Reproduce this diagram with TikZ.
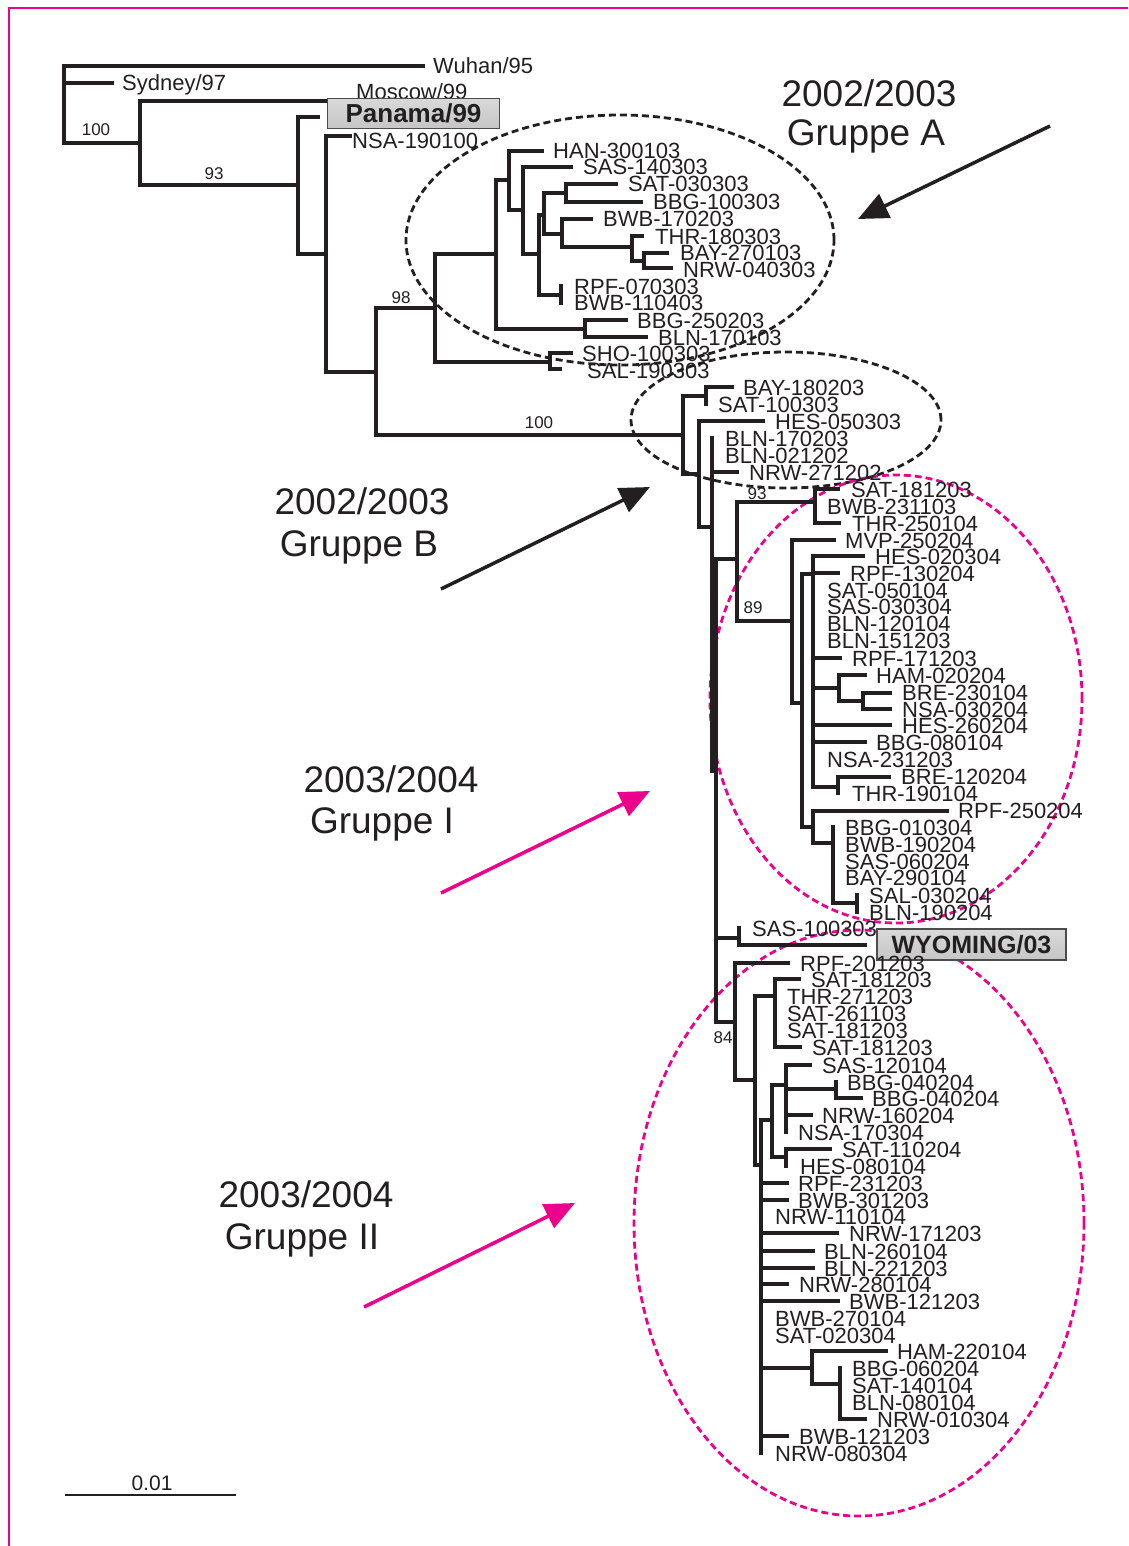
\documentclass[tikz,border=0pt]{standalone}
\usepackage{fontspec}
\setmainfont{Liberation Sans}
\usetikzlibrary{arrows.meta}
\definecolor{ink}{HTML}{231F20}
\definecolor{pinkc}{HTML}{EC008C}
\newcounter{lfc}
\newcommand\lf[3]{\stepcounter{lfc}\node[lab] (lf\arabic{lfc}) at (#1,#2+8) {#3};}
\newcommand\Hbr[3]{\draw[tree] (#1,#3) -- (#2,#3);}
\newcommand\Vbr[3]{\draw[tree] (#1,#2) -- (#1,#3);}
\begin{document}
\begin{tikzpicture}[x=1pt,y=-1pt,
  tree/.style={line width=3.6pt, draw=ink, line cap=rect},
  lab/.style={anchor=base west, inner sep=0pt, font=\fontsize{22}{22}\selectfont, text=ink},
  boot/.style={anchor=base, inner sep=0pt, font=\fontsize{17}{17}\selectfont, text=ink},
  grp/.style={anchor=base, inner sep=0pt, font=\fontsize{37}{40}\selectfont, text=ink},
  blkell/.style={draw=ink, line width=2.8pt, dash pattern=on 7pt off 4pt},
  pnkell/.style={draw=pinkc, line width=2.8pt, dash pattern=on 7pt off 4pt},
  blkarrow/.style={draw=ink, line width=3.5pt, -{Triangle[length=30pt,width=26pt]}},
  pnkarrow/.style={draw=pinkc, line width=3.5pt, -{Triangle[length=30pt,width=26pt]}},
  refbox/.style={draw=gray!60!black, line width=1.2pt, top color=gray!30, middle color=gray!6, bottom color=gray!45, inner sep=0pt, text=ink, font=\bfseries\fontsize{26}{26}\selectfont}
]
\useasboundingbox (0,0) rectangle (1128,1546);
\fill[white] (0,0) rectangle (1128,1546);
% frame
\draw[pinkc, line width=2pt] (8.5,1546) -- (8.5,8.5) -- (1128,8.5);

% ---------- ellipses ----------
\draw[blkell] (620,240) ellipse [x radius=214pt, y radius=125pt];
\draw[blkell] (786,420) ellipse [x radius=155pt, y radius=68pt];
\draw[pnkell] (896,699) ellipse [x radius=186pt, y radius=224pt];
\draw[pnkell] (859,1223) ellipse [x radius=225pt, y radius=293pt];

% ---------- root part ----------
\Vbr{64}{66}{143}
\Hbr{64}{423}{66}  \lf{433}{66}{Wuhan/95}
\Hbr{64}{112}{83}  \lf{122}{83}{Sydney/97}
\Hbr{64}{140}{143} \node[boot] (b100a) at (96,136) {100};
\Vbr{140}{101}{185}
\Hbr{140}{328}{101} \lf{356}{92}{Moscow/99}
\Hbr{140}{298}{185} \node[boot] (b93a) at (214,180) {93};
\Vbr{298}{117}{254}
\Hbr{298}{318}{117}
\node[refbox, minimum width=172pt, minimum height=30pt] (panama) at (413.5,113.5) {Panama/99};
\Hbr{298}{326}{254}
\Vbr{326}{136}{372}
\Hbr{326}{350}{136} \lf{352}{141}{NSA-190100}
\Hbr{326}{376}{372}
\Vbr{376}{308}{435}
\Hbr{376}{435}{308} \node[boot] (b98) at (401,303) {98};
\Hbr{376}{683}{435} \node[boot] (b100b) at (539,428) {100};

% ---------- group A ----------
\Vbr{435}{254}{362}
\Hbr{435}{496}{254}
\Hbr{435}{550}{362}
\Vbr{550}{353}{369}
\Hbr{550}{571}{353} \lf{582}{353}{SHO-100303}
\Hbr{550}{560}{369} \lf{587}{370}{SAL-190303}
\Vbr{496}{180}{329}
\Hbr{496}{509}{180}
\Hbr{496}{585}{329}
\Vbr{585}{320}{337}
\Hbr{585}{626}{320} \lf{637}{320}{BBG-250203}
\Hbr{585}{646}{337} \lf{658}{337}{BLN-170103}
\Vbr{509}{151}{210}
\Hbr{509}{542}{151} \lf{553}{151}{HAN-300103}
\Hbr{509}{523}{210}
\Vbr{523}{167}{254}
\Hbr{523}{571}{167} \lf{583}{167}{SAS-140303}
\Hbr{523}{539}{254}
\Vbr{539}{215}{295}
\Hbr{539}{544}{215}
\Hbr{539}{561}{295}
\Vbr{544}{193}{234}
\Hbr{544}{566}{193}
\Hbr{544}{562}{234}
\Vbr{566}{184}{202}
\Hbr{566}{616}{184} \lf{628}{184}{SAT-030303}
\Hbr{566}{641}{202} \lf{653}{202}{BBG-100303}
\Vbr{562}{219}{247}
\Hbr{562}{591}{219} \lf{603}{219}{BWB-170203}
\Hbr{562}{632}{247}
\Vbr{632}{236}{261}
\Hbr{632}{642}{236} \lf{655}{236}{THR-180303}
\Hbr{632}{644}{261}
\Vbr{644}{253}{268}
\Hbr{644}{667}{253} \lf{680}{253}{BAY-270103}
\Hbr{644}{671}{268} \lf{683}{269}{NRW-040303}
\Vbr{561}{286}{303}
\lf{574}{286}{RPF-070303}
\lf{574}{302}{BWB-110403}

% ---------- group B ----------
\Vbr{683}{396}{474}
\Hbr{683}{706}{396}
\Vbr{706}{387}{404}
\Hbr{706}{732}{387} \lf{743}{387}{BAY-180203}
\lf{718}{404}{SAT-100303}
\Hbr{683}{699}{474}
\Vbr{699}{421}{527}
\Hbr{699}{763}{421} \lf{775}{421}{HES-050303}
\Hbr{699}{712}{527}
\Vbr{712}{438}{771}
\lf{725}{438}{BLN-170203}
\lf{725}{455}{BLN-021202}
\Hbr{712}{737}{472} \lf{749}{472}{NRW-271202}
\Hbr{712}{716}{771}
\Vbr{716}{559}{1022}

% ---------- group I ----------
\Hbr{716}{737}{559}
\Vbr{737}{502}{621}
\Hbr{737}{815}{502} \node[boot] (b93b) at (757,499) {93};
\Vbr{815}{489}{523}
\Hbr{815}{838}{489} \lf{851}{489}{SAT-181203}
\lf{827}{506}{BWB-231103}
\Hbr{815}{839}{523} \lf{852}{523}{THR-250104}
\Hbr{737}{792}{621} \node[boot] (b89) at (753,613) {89};
\Vbr{792}{540}{703}
\Hbr{792}{834}{540} \lf{845}{540}{MVP-250204}
\Hbr{792}{802}{703}
\Vbr{802}{574}{827}
\Hbr{802}{813}{574}
\Vbr{813}{556}{787}
\Hbr{813}{863}{556} \lf{875}{556}{HES-020304}
\Hbr{813}{838}{573} \lf{850}{573}{RPF-130204}
\lf{827}{590}{SAT-050104}
\lf{827}{606}{SAS-030304}
\lf{827}{623}{BLN-120104}
\lf{827}{640}{BLN-151203}
\Hbr{813}{840}{658} \lf{852}{658}{RPF-171203}
\Hbr{813}{839}{688}
\Vbr{839}{675}{701}
\Hbr{839}{865}{675} \lf{876}{675}{HAM-020204}
\Hbr{839}{863}{701}
\Vbr{863}{693}{709}
\Hbr{863}{890}{693} \lf{902}{692}{BRE-230104}
\Hbr{863}{890}{709} \lf{902}{709}{NSA-030204}
\Hbr{813}{890}{725} \lf{902}{725}{HES-260204}
\Hbr{813}{865}{742} \lf{876}{742}{BBG-080104}
\lf{827}{759}{NSA-231203}
\Hbr{813}{838}{787}
\Vbr{838}{777}{793}
\Hbr{838}{889}{777} \lf{901}{776}{BRE-120204}
\lf{852}{793}{THR-190104}
\Hbr{802}{813}{827}
\Vbr{813}{811}{843}
\Hbr{813}{947}{811} \lf{958}{810}{RPF-250204}
\Hbr{813}{833}{843}
\Vbr{833}{827}{903}
\lf{845}{827}{BBG-010304}
\lf{845}{844}{BWB-190204}
\lf{845}{861}{SAS-060204}
\lf{845}{877}{BAY-290104}
\Hbr{833}{857}{903}
\Vbr{857}{895}{912}
\lf{869}{895}{SAL-030204}
\lf{869}{912}{BLN-190204}

% ---------- Wyoming ----------
\Hbr{716}{739}{938}
\Vbr{739}{928}{945}
\lf{752}{928}{SAS-100303}
\Hbr{739}{865}{945}
\node[refbox, font=\bfseries\fontsize{25}{25}\selectfont, minimum width=189pt, minimum height=31pt] (wyoming) at (971.5,944.5) {WYOMING/03};

% ---------- group II ----------
\Hbr{716}{735}{1022} \node[boot] (b84) at (723,1043) {84};
\Vbr{735}{963}{1080}
\Hbr{735}{788}{963} \lf{800}{963}{RPF-201203}
\Hbr{735}{755}{1080}
\Vbr{755}{996}{1165}
\Hbr{755}{775}{996}
\Vbr{775}{979}{1047}
\Hbr{775}{799}{979} \lf{811}{979}{SAT-181203}
\lf{787}{996}{THR-271203}
\lf{787}{1013}{SAT-261103}
\lf{787}{1030}{SAT-181203}
\Hbr{775}{800}{1047} \lf{812}{1047}{SAT-181203}
\Hbr{755}{761}{1165}
\Vbr{761}{1120}{1453}
\Hbr{761}{772}{1120}
\Vbr{772}{1085}{1157}
\Hbr{772}{786}{1085}
\Vbr{786}{1065}{1132}
\Hbr{786}{810}{1065} \lf{822}{1065}{SAS-120104}
\Hbr{786}{836}{1089}
\Vbr{836}{1082}{1098}
\lf{847}{1082}{BBG-040204}
\Hbr{836}{861}{1098} \lf{872}{1098}{BBG-040204}
\Hbr{786}{811}{1115} \lf{822}{1115}{NRW-160204}
\lf{798}{1132}{NSA-170304}
\Hbr{772}{786}{1157}
\Vbr{786}{1149}{1166}
\Hbr{786}{830}{1149} \lf{842}{1149}{SAT-110204}
\lf{800}{1166}{HES-080104}
\Hbr{761}{787}{1183} \lf{798}{1183}{RPF-231203}
\Hbr{761}{787}{1200} \lf{798}{1200}{BWB-301203}
\lf{775}{1216}{NRW-110104}
\Hbr{761}{837}{1233} \lf{849}{1233}{NRW-171203}
\Hbr{761}{813}{1251} \lf{824}{1251}{BLN-260104}
\Hbr{761}{813}{1268} \lf{824}{1268}{BLN-221203}
\Hbr{761}{787}{1284} \lf{799}{1284}{NRW-280104}
\Hbr{761}{838}{1301} \lf{849}{1301}{BWB-121203}
\lf{775}{1318}{BWB-270104}
\lf{775}{1335}{SAT-020304}
\Hbr{761}{812}{1368}
\Vbr{812}{1351}{1384}
\Hbr{812}{886}{1351} \lf{897}{1351}{HAM-220104}
\Hbr{812}{840}{1384}
\Vbr{840}{1368}{1419}
\lf{852}{1368}{BBG-060204}
\lf{852}{1385}{SAT-140104}
\lf{852}{1402}{BLN-080104}
\Hbr{840}{865}{1419} \lf{877}{1419}{NRW-010304}
\Hbr{761}{787}{1436} \lf{799}{1436}{BWB-121203}
\lf{775}{1453}{NRW-080304}

% ---------- group captions and arrows ----------
\node[grp] (ga1) at (869,107) {2002/2003};
\node[grp] (ga2) at (866,146) {Gruppe A};
\coordinate (aAs) at (1050,126); \coordinate (aAe) at (858,219);
\draw[blkarrow] (aAs) -- (aAe);

\node[grp] (gb1) at (362,514) {2002/2003};
\node[grp] (gb2) at (359,556) {Gruppe B};
\coordinate (aBs) at (441,589); \coordinate (aBe) at (650,487);
\draw[blkarrow] (aBs) -- (aBe);

\node[grp] (gi1) at (391,792) {2003/2004};
\node[grp] (gi2) at (382,833) {Gruppe I};
\coordinate (aIs) at (441,893); \coordinate (aIe) at (650,791);
\draw[pnkarrow] (aIs) -- (aIe);

\node[grp] (gii1) at (306,1207) {2003/2004};
\node[grp] (gii2) at (302,1249) {Gruppe II};
\coordinate (aIIs) at (364,1307); \coordinate (aIIe) at (575,1203);
\draw[pnkarrow] (aIIs) -- (aIIe);

% ---------- scale bar ----------
\coordinate (sb1) at (65,1495); \coordinate (sb2) at (236,1495);
\draw[ink, line width=1.3pt] (sb1) -- (sb2);
\node[anchor=base, inner sep=0pt, font=\fontsize{21}{21}\selectfont, text=ink] (sbl) at (152,1490.5) {0.01};
\end{tikzpicture}
\end{document}
